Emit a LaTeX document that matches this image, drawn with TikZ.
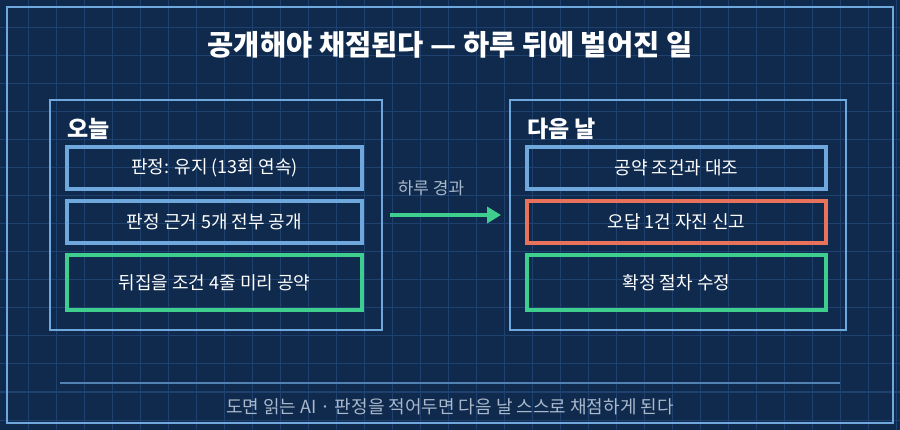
\documentclass[tikz,border=0pt]{standalone}
\usepackage{fontspec}
\setmainfont{Noto Sans CJK KR}
\usetikzlibrary{arrows.meta}
\definecolor{bg}{HTML}{0F2A4C}
\definecolor{gridc}{HTML}{1F4170}
\definecolor{lb}{HTML}{6FA8DC}
\definecolor{rd}{HTML}{E8735A}
\definecolor{gr}{HTML}{3ECF8E}
\definecolor{gy}{HTML}{A9B8CC}
\begin{document}
\begin{tikzpicture}[x=1pt,y=-1pt,
  panel/.style={draw=lb,line width=2pt},
  box/.style={draw=#1,line width=3.5pt,minimum height=42pt,minimum width=295pt,text=white,font=\fontsize{18}{20}\selectfont,inner sep=0pt},
  head/.style={anchor=west,text=white,font=\bfseries\fontsize{23}{26}\selectfont,inner sep=0pt}]
\useasboundingbox (0,0) rectangle (900,430);
\fill[bg] (0,0) rectangle (900,430);
\foreach \i in {1,...,32} \draw[gridc,line width=1pt] (\i*28,0) -- (\i*28,430);
\foreach \i in {1,...,15} \draw[gridc,line width=1pt] (0,\i*28) -- (900,\i*28);
\draw[lb,line width=2pt] (7,7) rectangle (893,423);
\node[text=white,font=\bfseries\fontsize{28.5}{32}\selectfont] (title) at (450,45) {공개해야 채점된다 — 하루 뒤에 벌어진 일};
\draw[panel] (50,100) rectangle (382,330);
\draw[panel] (510,100) rectangle (846,330);
\node[head] (h1) at (67,129) {오늘};
\node[head] (h2) at (527,129) {다음 날};
\node[box=lb] (a1) at (214.5,168) {판정: 유지 (13회 연속)};
\node[box=lb] (a2) at (214.5,222) {판정 근거 5개 전부 공개};
\node[box=gr,minimum height=55pt] (a3) at (214.5,282.5) {뒤집을 조건 4줄 미리 공약};
\node[box=lb,minimum width=299pt] (b1) at (676.5,168) {공약 조건과 대조};
\node[box=rd,minimum width=299pt] (b2) at (676.5,222) {오답 1건 자진 신고};
\node[box=gr,minimum width=299pt,minimum height=55pt] (b3) at (676.5,282.5) {확정 절차 수정};
\coordinate (p1) at (390,215);
\coordinate (p2) at (501,215);
\draw[gr,line width=4pt,-{Triangle[length=14pt,width=16pt]}] (p1) -- (p2);
\node[text=gy,font=\fontsize{17}{19}\selectfont] (lbl) at (431,188) {하루 경과};
\draw[lb!70!bg,line width=1.4pt] (60,383) -- (840,383);
\node[text=gy,font=\fontsize{18}{20}\selectfont] (foot) at (450,407) {도면 읽는 AI · 판정을 적어두면 다음 날 스스로 채점하게 된다};
\end{tikzpicture}
\end{document}
